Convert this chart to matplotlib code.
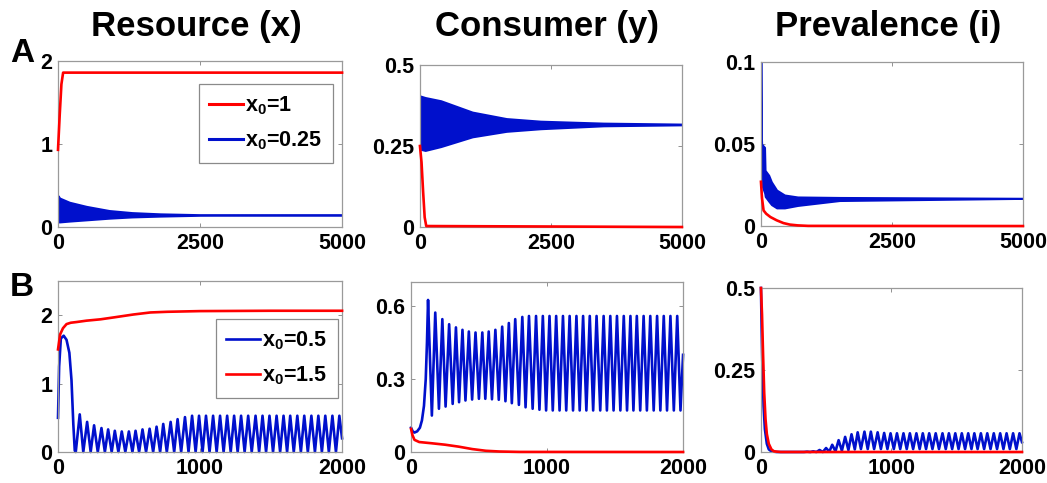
import matplotlib
matplotlib.use("Agg")
import matplotlib.pyplot as plt
from matplotlib.ticker import FormatStrFormatter

plt.rcParams["font.family"] = ["Liberation Sans", "DejaVu Sans"]
plt.rcParams["font.weight"] = "bold"
plt.rcParams["mathtext.fontset"] = "custom"
plt.rcParams["mathtext.rm"] = "Liberation Sans:bold"
plt.rcParams["mathtext.bf"] = "Liberation Sans:bold"
plt.rcParams["mathtext.it"] = "Liberation Sans:bold"

RED = "#FF0000"
BLUE = "#0010CC"

# ---- row A: long run (0..5000), dense oscillations drawn as envelope bands ----
a_res_red_t = [0, 30, 60, 90, 5000]
a_res_red = [0.93, 1.35, 1.72, 1.86, 1.86]
a_res_band_t = [0, 30, 200, 500, 900, 1300, 1800, 2500, 5000]
a_res_band_hi = [0.38, 0.35, 0.30, 0.25, 0.20, 0.175, 0.16, 0.15, 0.145]
a_res_band_lo = [0.06, 0.06, 0.07, 0.085, 0.105, 0.12, 0.13, 0.14, 0.145]

a_con_red_t = [0, 30, 60, 90, 120, 5000]
a_con_red = [0.25, 0.20, 0.11, 0.03, 0.003, 0.0]
a_con_band_t = [0, 100, 400, 1000, 1650, 2300, 3500, 5000]
a_con_band_hi = [0.405, 0.40, 0.39, 0.355, 0.335, 0.327, 0.321, 0.318]
a_con_band_lo = [0.24, 0.236, 0.248, 0.278, 0.295, 0.303, 0.312, 0.315]

a_prev_red_t = [0, 20, 50, 100, 180, 300, 430, 550, 700, 900, 5000]
a_prev_red = [0.027, 0.017, 0.0095, 0.0075, 0.0055, 0.0035, 0.0018, 0.0009, 0.0004, 0.0001, 0.0]
a_prev_band_t = [0, 5, 15, 70, 80, 150, 200, 300, 450, 700, 1500, 5000]
a_prev_band_hi = [0.1, 0.06, 0.05, 0.048, 0.034, 0.031, 0.027, 0.022, 0.019, 0.0178, 0.0175, 0.017]
a_prev_band_lo = [0.1, 0.03, 0.025, 0.02, 0.018, 0.015, 0.013, 0.011, 0.011, 0.0125, 0.0155, 0.0168]

# ---- row B: short run (0..2000), individual cycles ----
# times of the resource maxima and the consumer maxima
res_peak_t = [153, 205, 254, 306, 353, 400, 449, 499, 546, 595, 645, 694, 741,
              793, 842, 894, 944, 993, 1042, 1092, 1141, 1191, 1240, 1289, 1339,
              1391, 1440, 1489, 1539, 1588, 1635, 1685, 1734, 1784, 1833, 1882,
              1932, 1981]
con_peak_t = [125, 178, 230, 280, 330, 378, 425, 474, 524, 571, 620, 670, 719,
              766, 818, 867, 919, 969, 1018, 1067, 1117, 1166, 1216, 1265, 1314,
              1364, 1416, 1465, 1514, 1564, 1613, 1660, 1710, 1759, 1809, 1858,
              1907, 1957]

b_res_head_t = [0, 8, 20, 40, 60, 80, 95, 108, 118]
b_res_head = [0.5, 1.25, 1.66, 1.70, 1.64, 1.45, 1.05, 0.40, 0.02]
b_res_peak = [0.55, 0.44, 0.39, 0.35, 0.33, 0.31, 0.30, 0.30, 0.31, 0.33, 0.34,
              0.37, 0.41, 0.44, 0.48, 0.51, 0.53] + [0.53] * 21
b_res_trough = [0.0] * 38
b_res_end = (2000, 0.2)
b_res_red_t = [0, 15, 35, 60, 90, 130, 200, 300, 400, 530, 650, 770, 1000, 1500, 2000]
b_res_red = [1.5, 1.72, 1.81, 1.87, 1.89, 1.90, 1.92, 1.94, 1.97, 2.01, 2.04, 2.05,
             2.06, 2.065, 2.065]

b_con_head_t = [0, 12, 25, 45, 65, 80, 95, 108, 117]
b_con_head = [0.10, 0.085, 0.08, 0.085, 0.10, 0.13, 0.19, 0.30, 0.45]
b_con_peak = [0.626, 0.574, 0.547, 0.526, 0.513, 0.503, 0.496, 0.492, 0.492,
              0.496, 0.503, 0.516, 0.531, 0.547, 0.556] + [0.56] * 23
b_con_trough = [0.15, 0.178, 0.187, 0.198, 0.205, 0.212, 0.216, 0.219, 0.219,
                0.217, 0.215, 0.209, 0.201, 0.194, 0.184, 0.178, 0.174] + [0.171] * 21
b_con_end = (2000, 0.40)
b_con_red_t = [0, 10, 25, 60, 150, 250, 350, 450, 550, 650, 800, 2000]
b_con_red = [0.095, 0.07, 0.05, 0.041, 0.036, 0.03, 0.022, 0.012, 0.005, 0.002, 0.0003, 0.0]

b_prev_head_t = [0, 5, 10, 20, 30, 45, 60, 80, 120]
b_prev_head = [0.5, 0.38, 0.28, 0.14, 0.07, 0.025, 0.008, 0.002, 0.0]
b_prev_peak = [0, 0, 0, 0, 0.001, 0.002, 0.006, 0.012, 0.022, 0.036, 0.046, 0.054,
               0.06, 0.062, 0.062, 0.06, 0.058] + [0.057] * 21
b_prev_trough = [0.0] * 8 + [0.001, 0.002, 0.004, 0.006, 0.008] + [0.009] * 25
b_prev_end = (2000, 0.03)
b_prev_red_t = [0, 8, 16, 25, 35, 45, 60, 80, 100, 150, 2000]
b_prev_red = [0.5, 0.42, 0.3, 0.18, 0.1, 0.055, 0.025, 0.008, 0.002, 0.0, 0.0]

col_titles = ["Resource (x)", "Consumer (y)", "Prevalence (i)"]
row_labels = ["A", "B"]

a_yticks = [[0, 1, 2], [0, 0.25, 0.5], [0, 0.05, 0.1]]
a_ylim = [2, 0.5, 0.1]
b_yticks = [[0, 1, 2], [0, 0.3, 0.6], [0, 0.25, 0.5]]
b_ylim = [2.5, 0.7, 0.5]
a_xticks = [0, 2500, 5000]
b_xticks = [0, 1000, 2000]


def cycle_series(head_t, head_v, first_t, first_v, second_t, second_v, end):
    """Chain the start-up transient with the alternating extrema of each cycle."""
    ts, vs = list(head_t), list(head_v)
    for t1, v1, t2, v2 in zip(first_t, first_v, second_t, second_v):
        ts += [t1, t2]
        vs += [v1, v2]
    ts.append(end[0])
    vs.append(end[1])
    return ts, vs


def style_axes(ax, xmax, ymax, xticks, yticks):
    ax.set_xlim(0, xmax)
    ax.set_ylim(0, ymax)
    ax.set_xticks(xticks)
    ax.set_yticks(yticks)
    ax.yaxis.set_major_formatter(FormatStrFormatter("%g"))
    ax.tick_params(direction="in", length=3, width=0.6, color="#808080",
                   top=True, right=True, labelsize=15.5, pad=4)
    for lab in ax.get_xticklabels() + ax.get_yticklabels():
        lab.set_fontweight("bold")
    for sp in ax.spines.values():
        sp.set_color("#9a9a9a")
        sp.set_linewidth(0.9)


def add_legend(ax, handles, labels, anchor):
    leg = ax.legend(handles, labels, loc="upper right", bbox_to_anchor=anchor,
                    fontsize=15.5, fancybox=False, framealpha=1,
                    edgecolor="#8a8a8a", handlelength=1.55, handletextpad=0.12,
                    borderpad=0.5, borderaxespad=0, labelspacing=0.55)
    leg.get_frame().set_linewidth(0.9)


fig = plt.figure(figsize=(10.47, 4.83), dpi=100)

pos_a = [[0.0554, 0.530, 0.2713, 0.3437],
         [0.4011, 0.530, 0.2502, 0.3354],
         [0.7268, 0.532, 0.2502, 0.3395]]
pos_b = [[0.0554, 0.0642, 0.2713, 0.354],
         [0.3926, 0.0642, 0.2598, 0.352],
         [0.7268, 0.0642, 0.2493, 0.3395]]

lw = 1.9

# row A
a_bands = [(a_res_band_t, a_res_band_lo, a_res_band_hi),
           (a_con_band_t, a_con_band_lo, a_con_band_hi),
           (a_prev_band_t, a_prev_band_lo, a_prev_band_hi)]
a_reds = [(a_res_red_t, a_res_red), (a_con_red_t, a_con_red), (a_prev_red_t, a_prev_red)]
for k in range(3):
    ax = fig.add_axes(pos_a[k])
    bt, lo, hi = a_bands[k]
    ax.fill_between(bt, lo, hi, color=BLUE, edgecolor=BLUE, linewidth=1.3, zorder=2)
    rt, rv = a_reds[k]
    ax.plot(rt, rv, color=RED, lw=lw, zorder=3, clip_on=False)
    style_axes(ax, 5000, a_ylim[k], a_xticks, a_yticks[k])
    if k == 0:
        h_red, = ax.plot([], [], color=RED, lw=2.2)
        h_blue, = ax.plot([], [], color=BLUE, lw=2.2)
        add_legend(ax, [h_red, h_blue], [r"x$_0$=1", r"x$_0$=0.25"], (0.968, 0.861))

# row B
b_blues = [
    cycle_series(b_res_head_t, b_res_head, con_peak_t, b_res_trough,
                 res_peak_t, b_res_peak, b_res_end),
    cycle_series(b_con_head_t, b_con_head, con_peak_t, b_con_peak,
                 res_peak_t, b_con_trough, b_con_end),
    cycle_series(b_prev_head_t, b_prev_head, con_peak_t, b_prev_trough,
                 res_peak_t, b_prev_peak, b_prev_end),
]
b_reds = [(b_res_red_t, b_res_red), (b_con_red_t, b_con_red), (b_prev_red_t, b_prev_red)]
for k in range(3):
    ax = fig.add_axes(pos_b[k])
    bt, bv = b_blues[k]
    h_blue, = ax.plot(bt, bv, color=BLUE, lw=lw, zorder=2, clip_on=False)
    rt, rv = b_reds[k]
    h_red, = ax.plot(rt, rv, color=RED, lw=lw, zorder=3, clip_on=False)
    style_axes(ax, 2000, b_ylim[k], b_xticks, b_yticks[k])
    if k == 0:
        add_legend(ax, [h_blue, h_red], [r"x$_0$=0.5", r"x$_0$=1.5"], (0.986, 0.778))

# column titles and row letters
for x, title in zip([0.188, 0.522, 0.848], col_titles):
    fig.text(x, 0.945, title, ha="center", va="center", fontsize=25, fontweight="bold")
fig.text(0.021, 0.89, row_labels[0], ha="center", va="center", fontsize=24, fontweight="bold")
fig.text(0.021, 0.405, row_labels[1], ha="center", va="center", fontsize=24, fontweight="bold")

fig.savefig("out.png", dpi=100)
